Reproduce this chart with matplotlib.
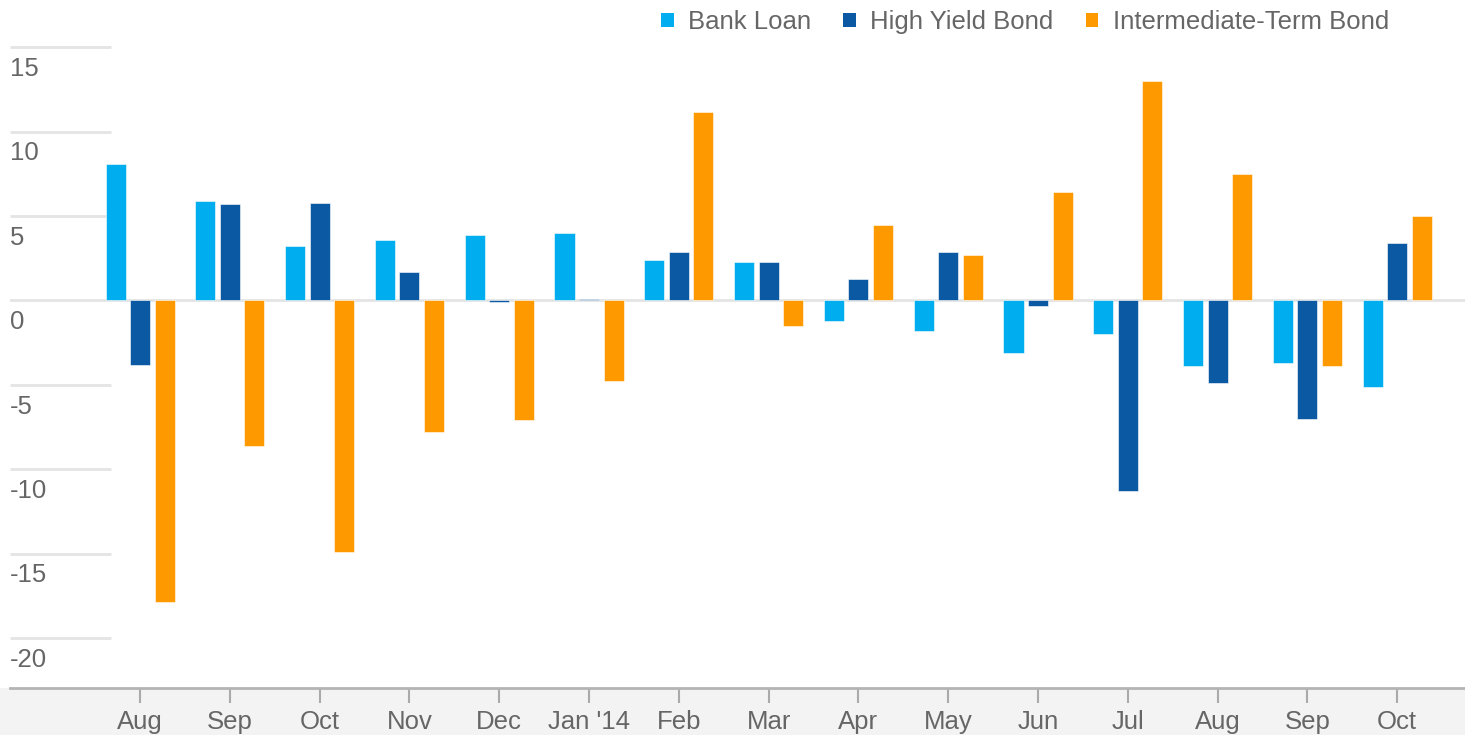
import numpy as np
import matplotlib.pyplot as plt
from matplotlib.patches import Patch, Rectangle

months = ['Aug', 'Sep', 'Oct', 'Nov', 'Dec', "Jan '14", 'Feb', 'Mar',
          'Apr', 'May', 'Jun', 'Jul', 'Aug', 'Sep', 'Oct']
bank_loan = [8.1, 5.9, 3.2, 3.6, 3.9, 4.0, 2.4, 2.3,
             -1.2, -1.8, -3.1, -2.0, -3.9, -3.7, -5.1]
high_yield = [-3.8, 5.7, 5.8, 1.7, -0.1, 0.1, 2.9, 2.3,
              1.3, 2.9, -0.3, -11.3, -4.9, -7.0, 3.4]
inter_term = [-17.9, -8.6, -14.9, -7.8, -7.1, -4.8, 11.2, -1.5,
              4.5, 2.7, 6.4, 13.0, 7.5, -3.9, 5.0]
y_ticks = [15, 10, 5, 0, -5, -10, -15, -20]

series = [('Bank Loan', bank_loan, '#00aeef'),
          ('High Yield Bond', high_yield, '#0b58a3'),
          ('Intermediate-Term Bond', inter_term, '#ff9900')]

plt.rcParams['font.family'] = ['Liberation Sans', 'DejaVu Sans']
text_col = '#666666'
fs = 18.5

W, H = 1465, 735
fig = plt.figure(figsize=(W/100, H/100), dpi=100)
# grey band under the x axis
fig.patches.append(Rectangle((0, 0), 1, 47/H, transform=fig.transFigure,
                             facecolor='#f3f3f3', edgecolor='none', zorder=-5))
ax = fig.add_axes([10/W, 47/H, 1 - 10/W, 1 - 47/H])
ax.patch.set_alpha(0)

x = np.arange(len(months))
step, width = 0.273, 0.223
for k, (name, vals, col) in enumerate(series):
    ax.bar(x + (k-1)*step, vals, width, color=col, label=name,
           edgecolor='white', linewidth=0.4, zorder=3)

ax.set_xlim(-1.448, 14.755)
ax.set_ylim(-22.97, 17.81)

ytr = ax.get_yaxis_transform()
for v in y_ticks:
    if v == 0:
        ax.axhline(0, color='#e4e4e4', lw=2, zorder=1)
    else:
        ax.hlines(v, 0, 0.0694, transform=ytr, color='#e4e4e4', lw=2, zorder=1)
    ax.annotate(str(v), (0, v), xycoords=ytr, xytext=(0, -7),
                textcoords='offset points', va='top', ha='left',
                fontsize=fs, color=text_col)
ax.set_yticks([])

ax.set_xticks(x)
ax.set_xticklabels(months, fontsize=fs, color=text_col)
ax.tick_params(axis='x', length=11, width=1.5, color='#aaaaaa', pad=5)
for s in ['top', 'right', 'left']:
    ax.spines[s].set_visible(False)
ax.spines['bottom'].set_color('#b4b4b4')
ax.spines['bottom'].set_linewidth(2)

handles = [Patch(facecolor=c, edgecolor='none') for _, _, c in series]
leg = fig.legend(handles, [n for n, _, _ in series], loc='center right',
                 bbox_to_anchor=(1412/W, 1 - 22/H), ncol=3, frameon=False,
                 fontsize=fs, handlelength=0.5, handleheight=0.5,
                 handletextpad=0.55, columnspacing=1.25)
for t in leg.get_texts():
    t.set_color(text_col)

fig.savefig('out.png', dpi=100)
